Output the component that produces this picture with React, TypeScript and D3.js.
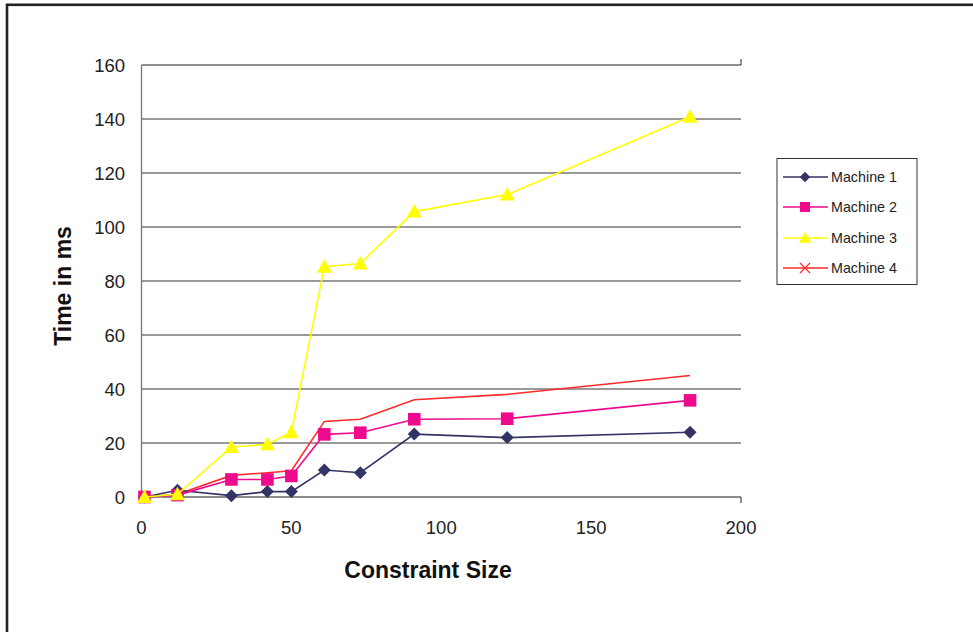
import React from "react";
import * as d3 from "d3";

const xValues = [1, 12, 30, 42, 50, 61, 73, 91, 122, 183];
const machine1 = [0, 2.5, 0.5, 2, 2, 10, 9, 23.3, 22, 24];
const machine2 = [0, 0.7, 6.5, 6.5, 7.8, 23.2, 23.8, 28.8, 29, 35.8];
const machine3 = [0, 1, 18.5, 19.5, 24, 85.3, 86.5, 105.7, 112, 140.8];
const machine4 = [0, 1, 8, 9, 9.7, 28, 28.8, 36, 38, 45];
const seriesNames = ["Machine 1", "Machine 2", "Machine 3", "Machine 4"];
const seriesColors = ["#333366", "#EE0A8C", "#FFFF00", "#FF2A2A"];
const seriesMarkers = ["diamond", "square", "triangle", "x"];
const xTicks = [0, 50, 100, 150, 200];
const yTicks = [0, 20, 40, 60, 80, 100, 120, 140, 160];

const W = 973;
const H = 632;
const FONT = "'Liberation Sans', Arial, sans-serif";

function Marker({ type, cx, cy, color, plot }: any) {
  const k = plot ? 1 : 0.8;
  if (type === "diamond") {
    const s = 6.5 * k;
    return <path d={`M${cx},${cy - s}L${cx + s},${cy}L${cx},${cy + s}L${cx - s},${cy}Z`} fill={color} />;
  }
  if (type === "square") {
    const s = 6.3 * k;
    return <rect x={cx - s} y={cy - s} width={2 * s} height={2 * s} fill={color} />;
  }
  if (type === "triangle") {
    const s = 7.5 * k;
    return <path d={`M${cx},${cy - s}L${cx + s},${cy + s * 0.8}L${cx - s},${cy + s * 0.8}Z`} fill={color} />;
  }
  if (type === "x" && !plot) {
    const s = 5;
    return (
      <path d={`M${cx - s},${cy - s}L${cx + s},${cy + s}M${cx - s},${cy + s}L${cx + s},${cy - s}`} stroke={color} strokeWidth={1.2} />
    );
  }
  return null;
}

export default function App() {
  const x = d3.scaleLinear().domain([0, 200]).range([141.5, 741]);
  const y = d3.scaleLinear().domain([0, 160]).range([497, 65]);
  const allSeries = [machine1, machine2, machine3, machine4];
  const line = d3
    .line<number>()
    .x((_, i) => x(xValues[i]))
    .y((d) => y(d));
  const drawOrder = [3, 0, 1, 2];
  const legendY = [177, 207, 238, 268];
  return (
    <svg width={W} height={H} style={{ position: "absolute", left: 0, top: 0, background: "#fff" }}>
      <rect x={0} y={0} width={W} height={H} fill="#fff" />
      <rect x={7} y={4.8} width={W + 20} height={H + 20} fill="none" stroke="#222" strokeWidth={2.6} />
      {yTicks.map((t) => (
        <line
          key={t}
          x1={x(0)}
          x2={x(200)}
          y1={y(t)}
          y2={y(t)}
          stroke={t === 160 ? "#222" : t === 0 ? "#666" : "#777"}
          strokeWidth={t === 160 ? 1.2 : 1.3}
        />
      ))}
      <line x1={x(0)} x2={x(0)} y1={y(160)} y2={y(0)} stroke="#777" strokeWidth={1.3} />
      <line x1={x(200)} x2={x(200)} y1={y(160) - 6} y2={y(160)} stroke="#222" strokeWidth={1} />
      <line x1={x(200)} x2={x(200)} y1={y(0)} y2={y(0) + 6} stroke="#222" strokeWidth={1} />
      {yTicks.map((t) => (
        <text key={t} x={125} y={y(t)} dy="0.36em" textAnchor="end" fontFamily={FONT} fontSize={18.5} fill="#222">
          {t}
        </text>
      ))}
      {xTicks.map((t) => (
        <text key={t} x={x(t)} y={527} dy="0.36em" textAnchor="middle" fontFamily={FONT} fontSize={18.5} fill="#222">
          {t}
        </text>
      ))}
      {drawOrder.map((si) => (
        <g key={si}>
          <path d={line(allSeries[si]) || ""} fill="none" stroke={seriesColors[si]} strokeWidth={1.6} />
          {allSeries[si].map((v, i) => (
            <Marker key={i} type={seriesMarkers[si]} cx={x(xValues[i])} cy={y(v)} color={seriesColors[si]} plot />
          ))}
        </g>
      ))}
      <text
        transform={`translate(71,286) rotate(-90)`}
        textAnchor="middle"
        fontFamily={FONT}
        fontSize={23}
        fontWeight="bold"
        fill="#111"
      >
        Time in ms
      </text>
      <text x={428} y={578} textAnchor="middle" fontFamily={FONT} fontSize={23} fontWeight="bold" fill="#111">
        Constraint Size
      </text>
      <rect x={777} y={158.5} width={140} height={126} fill="#fff" stroke="#333" strokeWidth={1} />
      {seriesNames.map((n, i) => (
        <g key={n}>
          <line x1={783} x2={828} y1={legendY[i]} y2={legendY[i]} stroke={seriesColors[i]} strokeWidth={1.6} />
          <Marker type={seriesMarkers[i]} cx={805} cy={legendY[i]} color={seriesColors[i]} />
          <text x={831} y={legendY[i]} dy="0.36em" fontFamily={FONT} fontSize={14.3} fill="#222">
            {n}
          </text>
        </g>
      ))}
    </svg>
  );
}
